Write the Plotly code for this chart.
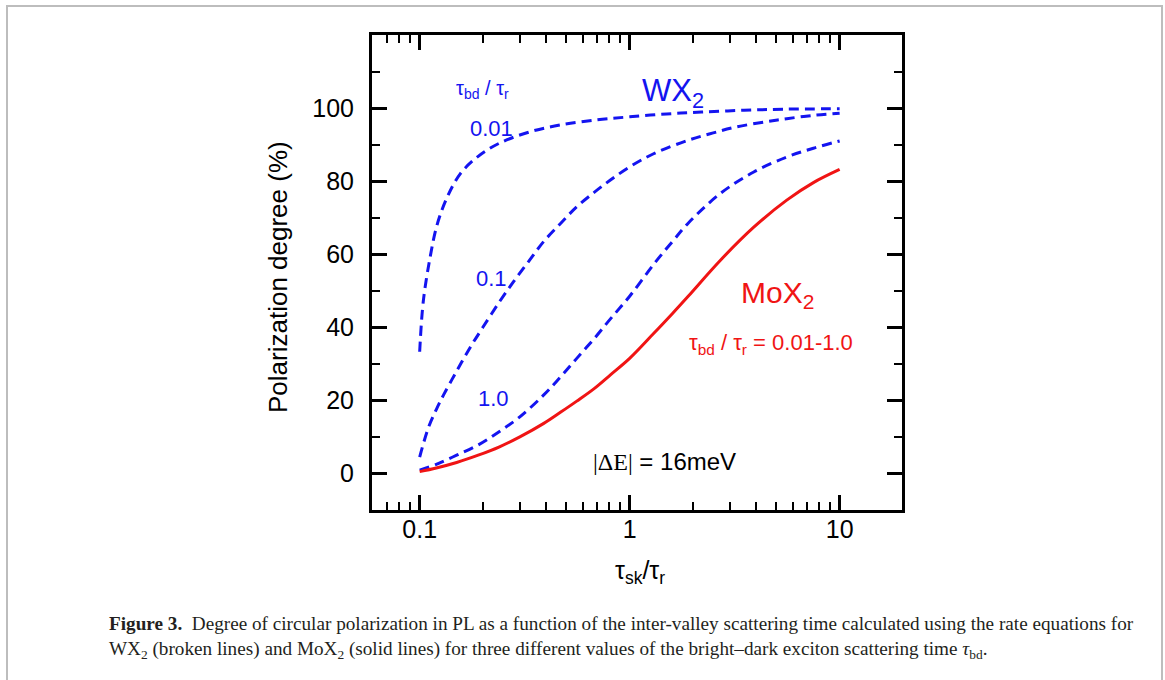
import numpy as np
import plotly.graph_objects as go

# ---------------- data ----------------
x_001 = [0.1, 0.104, 0.112, 0.121, 0.135, 0.156, 0.19, 0.24, 0.33, 0.47, 0.7, 1.0, 1.5, 2.2, 3.5, 5.5, 10]
y_001 = [33.3, 47, 59, 68, 75.5, 82, 86.8, 90.4, 93.4, 95.4, 96.8, 97.6, 98.4, 98.9, 99.4, 99.7, 99.8]

x_01 = [0.1, 0.11, 0.12, 0.13, 0.15, 0.174, 0.2, 0.24, 0.28, 0.33, 0.39, 0.47, 0.56, 0.68, 0.81,
        1.0, 1.3, 1.9, 2.5, 3.2, 4.5, 5.6, 7.5, 10]
y_01 = [4.5, 12.5, 17.5, 21.5, 28, 34.5, 40, 47, 52.5, 58, 63.5, 68.5, 73, 77, 80.3,
        83.9, 87.5, 91.2, 93.2, 94.8, 96.3, 97.1, 98.0, 98.6]

x_10 = [0.1, 0.12, 0.15, 0.19, 0.24, 0.3, 0.39, 0.47, 0.56, 0.68, 0.81, 1.0, 1.3, 1.6, 1.9,
        2.7, 3.9, 5.6, 7.5, 10]
y_10 = [0.9, 2.5, 5, 7.8, 11.5, 15.5, 21.5, 26.5, 31.5, 37, 42.3, 48.5, 57.2, 63.5, 68.5,
        76.6, 82.5, 86.6, 89, 91]

x_mo = [0.1, 0.12, 0.15, 0.19, 0.24, 0.3, 0.39, 0.47, 0.56, 0.68, 0.81, 1.0, 1.3, 1.6, 1.9,
        2.7, 3.9, 5.6, 7.5, 10]
y_mo = [0.5, 1.5, 3.0, 5.0, 7.3, 10.0, 13.7, 16.8, 19.8, 23.3, 27.0, 31.5, 38.3, 43.8, 48.5,
        58.3, 67.4, 74.8, 79.6, 83.2]

x_tickvals = [0.1, 1, 10]
x_ticktext = ["0.1", "1", "10"]
y_tickvals = [0, 20, 40, 60, 80, 100]
y_ticktext = ["0", "20", "40", "60", "80", "100"]
x_minor = [m * d for d in (0.01, 0.1, 1) for m in range(2, 10) if 0.06 < m * d < 20]
y_minor = [10, 30, 50, 70, 90, 110]

BLUE = "#1414f0"
RED = "#f01414"
SANS = "Liberation Sans, Arial, sans-serif"
SERIF = "Liberation Serif, Times New Roman, serif"

fig = go.Figure()
dash = "10px,6px"
for xs, ys in ((x_001, y_001), (x_01, y_01), (x_10, y_10)):
    fig.add_trace(go.Scatter(x=xs, y=ys, mode="lines", line=dict(color=BLUE, width=3, dash=dash, shape="spline"),
                             showlegend=False, hoverinfo="skip"))
fig.add_trace(go.Scatter(x=x_mo, y=y_mo, mode="lines", line=dict(color=RED, width=3, shape="spline"),
                         showlegend=False, hoverinfo="skip"))

axis_common = dict(showline=True, linewidth=3, linecolor="black", mirror="ticks", ticks="inside",
                   ticklen=15, tickwidth=3, tickcolor="black", showgrid=False, zeroline=False,
                   tickfont=dict(family=SANS, size=25, color="black"))

fig.update_xaxes(type="log", range=[-1.227, 1.297], tickmode="array", tickvals=x_tickvals, ticktext=x_ticktext,
                 minor=dict(tickmode="array", tickvals=x_minor, ticks="inside", ticklen=8, tickwidth=2,
                            tickcolor="black", showgrid=False),
                 ticklabelstandoff=-5, **axis_common)
fig.update_yaxes(range=[-10, 120], tickmode="array", tickvals=y_tickvals, ticktext=y_ticktext,
                 minor=dict(tickmode="array", tickvals=y_minor, ticks="inside", ticklen=8, tickwidth=2,
                            tickcolor="black", showgrid=False),
                 ticklabelstandoff=10, **axis_common)

L, R, T, B = 372, 902, 35, 510
W, H = 1165, 680


def px(xp):
    return (xp - L) / (R - L)


def py(yp):
    return (B - yp) / (B - T)


ann = []
# axis titles
ann.append(dict(text="Polarization degree (%)", x=px(278), y=py(277), xref="paper", yref="paper",
                textangle=-90, showarrow=False, font=dict(family=SANS, size=26, color="black"),
                xanchor="center", yanchor="middle"))
ann.append(dict(text="τ<sub>sk</sub>/τ<sub>r</sub>", x=px(640), y=py(572), xref="paper", yref="paper",
                showarrow=False, font=dict(family=SANS, size=25, color="black"),
                xanchor="center", yanchor="middle"))
# in-plot labels (data coords; x in log10 units)
ann.append(dict(text="τ<sub>bd</sub> / τ<sub>r</sub>", x=np.log10(0.199), y=105, xref="x", yref="y",
                showarrow=False, font=dict(family=SANS, size=20, color=BLUE)))
ann.append(dict(text="WX<sub>2</sub>", x=np.log10(1.6), y=104, xref="x", yref="y",
                showarrow=False, font=dict(family=SANS, size=31, color=BLUE)))
ann.append(dict(text="0.01", x=np.log10(0.219), y=94.4, xref="x", yref="y",
                showarrow=False, font=dict(family=SANS, size=22, color=BLUE)))
ann.append(dict(text="0.1", x=np.log10(0.219), y=53.3, xref="x", yref="y",
                showarrow=False, font=dict(family=SANS, size=22, color=BLUE)))
ann.append(dict(text="1.0", x=np.log10(0.225), y=20.5, xref="x", yref="y",
                showarrow=False, font=dict(family=SANS, size=22, color=BLUE)))
ann.append(dict(text="MoX<sub>2</sub>", x=np.log10(5.05), y=49, xref="x", yref="y",
                showarrow=False, font=dict(family=SANS, size=30, color=RED)))
ann.append(dict(text="τ<sub>bd</sub> / τ<sub>r</sub> = 0.01-1.0", x=np.log10(4.73), y=35.5, xref="x", yref="y",
                showarrow=False, font=dict(family=SANS, size=22, color=RED)))
ann.append(dict(text='<span style="font-family:Liberation Serif">|ΔE|</span> = 16meV', x=np.log10(1.47), y=3.4,
                xref="x", yref="y", showarrow=False, font=dict(family=SANS, size=24, color="black")))
# caption
caption = ("<b>Figure 3.</b>  Degree of circular polarization in PL as a function of the inter-valley scattering "
           "time calculated using the rate equations for<br>WX<sub>2</sub> (broken lines) and MoX<sub>2</sub> "
           "(solid lines) for three different values of the bright–dark exciton scattering time "
           "<i>τ</i><sub>bd</sub>.")
ann.append(dict(text=caption, x=px(107), y=py(637.5), xref="paper", yref="paper", showarrow=False,
                xanchor="left", yanchor="middle", align="left",
                font=dict(family=SERIF, size=19.2, color="#231f20")))
fig.update_layout(annotations=ann)

# outer light-gray frame of the figure panel
fig.add_shape(type="rect", xref="paper", yref="paper", x0=px(7), x1=px(1162), y0=py(700), y1=py(6),
              line=dict(color="#bdbdbd", width=2), fillcolor="rgba(0,0,0,0)", layer="below")

fig.update_layout(width=W, height=H, margin=dict(l=L, r=W - R, t=T, b=H - B),
                  paper_bgcolor="white", plot_bgcolor="white", showlegend=False)

fig.write_html("out.html", config={"displayModeBar": False},
               post_script="document.body.style.margin='0px';document.body.style.overflow='hidden';")
